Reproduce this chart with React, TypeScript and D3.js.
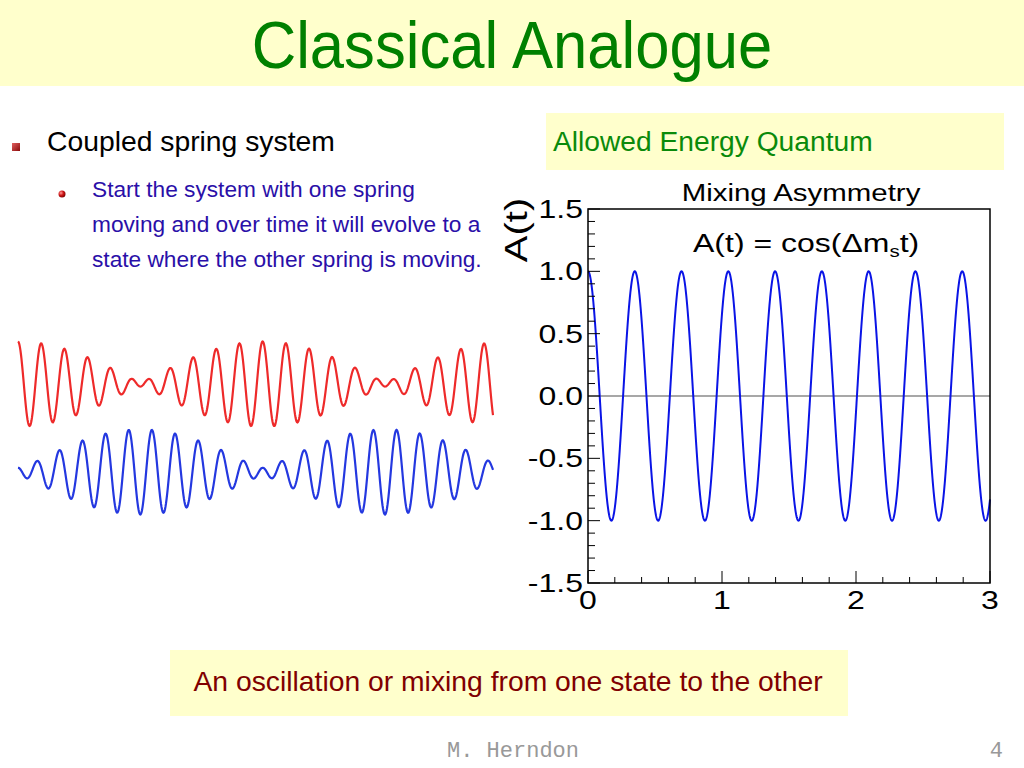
import React from "react";
import * as d3 from "d3";

// ---- slide text ----
const TITLE = "Classical Analogue";
const BULLET_1 = "Coupled spring system";
const SUB_LINES = [
  "Start the system with one spring",
  "moving and over time it will evolve to a",
  "state where the other spring is moving.",
];
const BOX_LABEL = "Allowed Energy Quantum";
const BOTTOM_NOTE = "An oscillation or mixing from one state to the other";
const FOOTER_AUTHOR = "M. Herndon";
const FOOTER_PAGE = "4";

// ---- chart data ----
const CHART_TITLE = "Mixing Asymmetry";
const Y_LABEL = "A(t)";
const X_DOMAIN = [0, 3];
const Y_DOMAIN = [-1.5, 1.5];
const X_TICKS = [0, 1, 2, 3];
const X_TICK_LABELS = ["0", "1", "2", "3"];
const Y_TICKS = [-1.5, -1.0, -0.5, 0.0, 0.5, 1.0, 1.5];
const Y_TICK_LABELS = ["-1.5", "-1.0", "-0.5", "0.0", "0.5", "1.0", "1.5"];
const DELTA_MS = 18.0; // oscillation frequency read from peak spacing
const T_STEP = 0.002;

// ---- coupled spring illustration (beat parameters) ----
const CARRIER_PERIOD_PX = 23.3;
const BEAT_HALF_PERIOD_PX = 245;
const SPRING_X0 = 18;
const SPRING_X1 = 493;
const RED_CENTER = 384;
const BLUE_CENTER = 472;
const SPRING_AMP = 42.5;
const RED_RESIDUAL = 0.06;
const BLUE_RESIDUAL = 0.1;

const FONT = "'Liberation Sans', Arial, Helvetica, sans-serif";

function StretchText(props: {
  x: number;
  y: number;
  sx?: number;
  size: number;
  anchor?: string;
  fill?: string;
  children: React.ReactNode;
}) {
  const { x, y, sx = 1.28, size, anchor = "start", fill = "#000", children } = props;
  return (
    <text
      transform={`translate(${x},${y}) scale(${sx},1)`}
      fontSize={size}
      fontFamily={FONT}
      textAnchor={anchor}
      fill={fill}
    >
      {children}
    </text>
  );
}

export default function App() {
  const W = 1024;
  const H = 768;

  // chart scales
  const x = d3.scaleLinear().domain(X_DOMAIN).range([588, 990]);
  const y = d3.scaleLinear().domain(Y_DOMAIN).range([583, 209]);

  const ts = d3.range(X_DOMAIN[0], X_DOMAIN[1] + T_STEP / 2, T_STEP);
  const curve = d3
    .line<number>()
    .x((t) => x(t))
    .y((t) => y(Math.cos(DELTA_MS * t)))(ts);

  const xMinor = d3.range(0, 3.0001, 0.2);
  const yMinor = d3.range(-1.5, 1.5001, 0.1);

  // spring illustration
  const w = (2 * Math.PI) / CARRIER_PERIOD_PX;
  const dlt = Math.PI / BEAT_HALF_PERIOD_PX;
  const px = d3.range(SPRING_X0, SPRING_X1 + 0.25, 0.5);
  const sx = d3.scaleLinear().domain([SPRING_X0, SPRING_X1]).range([SPRING_X0, SPRING_X1]);
  const redY = d3.scaleLinear().domain([-1, 1]).range([RED_CENTER + SPRING_AMP, RED_CENTER - SPRING_AMP]);
  const blueY = d3.scaleLinear().domain([-1, 1]).range([BLUE_CENTER + SPRING_AMP, BLUE_CENTER - SPRING_AMP]);
  const redLine = d3
    .line<number>()
    .x((p) => sx(p))
    .y((p) => {
      const u = p - SPRING_X0;
      return redY(Math.cos(dlt * u) * Math.cos(w * u) - RED_RESIDUAL * Math.sin(dlt * u) * Math.sin(w * u));
    })(px);
  const blueLine = d3
    .line<number>()
    .x((p) => sx(p))
    .y((p) => {
      const u = p - SPRING_X0;
      return blueY(-Math.sin(dlt * u) * Math.sin(w * u) + BLUE_RESIDUAL * Math.cos(dlt * u) * Math.cos(w * u));
    })(px);

  return (
    <svg
      width={W}
      height={H}
      viewBox={`0 0 ${W} ${H}`}
      style={{ position: "absolute", left: 0, top: 0, background: "#fff" }}
    >
      <defs>
        <linearGradient id="sq" x1="0" y1="0" x2="1" y2="1">
          <stop offset="0" stopColor="#e06060" />
          <stop offset="1" stopColor="#8a0a0a" />
        </linearGradient>
        <radialGradient id="ball" cx="0.35" cy="0.35" r="0.7">
          <stop offset="0" stopColor="#ff9a9a" />
          <stop offset="0.5" stopColor="#d01818" />
          <stop offset="1" stopColor="#7a0000" />
        </radialGradient>
      </defs>
      <rect x={0} y={0} width={W} height={H} fill="#fff" />

      {/* title band */}
      <rect x={0} y={0} width={W} height={86} fill="#ffffcc" />
      <text
        transform="translate(512,68) scale(0.92,1)"
        fontSize={67}
        fontFamily={FONT}
        fill="#008000"
        textAnchor="middle"
      >
        {TITLE}
      </text>

      {/* left bullets */}
      <rect x={12} y={143} width={8} height={8} fill="url(#sq)" />
      <text x={47} y={151} fontSize={28.3} fontFamily={FONT} fill="#000">
        {BULLET_1}
      </text>
      <circle cx={62} cy={194} r={3.5} fill="url(#ball)" />
      {SUB_LINES.map((s, i) => (
        <text key={i} x={92} y={197 + i * 35} fontSize={22.7} fontFamily={FONT} fill="#2a0fa8">
          {s}
        </text>
      ))}

      {/* spring waves */}
      <path d={redLine || ""} fill="none" stroke="#ee2a2a" strokeWidth={2.2} />
      <path d={blueLine || ""} fill="none" stroke="#2438e0" strokeWidth={2.2} />

      {/* Allowed energy box */}
      <rect x={546} y={113} width={458} height={57} fill="#ffffcc" />
      <text x={553} y={151} fontSize={28.2} fontFamily={FONT} fill="#0a8a0a">
        {BOX_LABEL}
      </text>

      {/* chart */}
      <StretchText x={801} y={201} size={23} anchor="middle">
        {CHART_TITLE}
      </StretchText>
      <text
        transform={`translate(527,230) rotate(-90) scale(1.25,1)`}
        fontSize={32}
        fontFamily={FONT}
        textAnchor="middle"
      >
        {Y_LABEL}
      </text>
      <rect x={588} y={209} width={402} height={374} fill="#fff" />
      <line x1={x(0)} x2={x(3)} y1={y(0)} y2={y(0)} stroke="#8a8a8a" strokeWidth={1.5} />
      <path d={curve || ""} fill="none" stroke="#0a14e6" strokeWidth={2} />
      {yMinor.map((v, i) => {
        const major = Math.abs(Math.round(v * 2) - v * 2) < 1e-6;
        return (
          <line
            key={"ym" + i}
            x1={588}
            x2={588 + (major ? 12 : 7)}
            y1={y(v)}
            y2={y(v)}
            stroke="#000"
            strokeWidth={1}
          />
        );
      })}
      {xMinor.map((v, i) => {
        const major = Math.abs(Math.round(v) - v) < 1e-6;
        return (
          <line
            key={"xm" + i}
            x1={x(v)}
            x2={x(v)}
            y1={583}
            y2={583 - (major ? 12 : 6)}
            stroke="#000"
            strokeWidth={1}
          />
        );
      })}
      <rect x={588} y={209} width={402} height={374} fill="none" stroke="#000" strokeWidth={1.5} />
      {Y_TICKS.map((v, i) => (
        <StretchText key={"yl" + i} x={583} y={y(v) + 9} size={25} anchor="end">
          {Y_TICK_LABELS[i]}
        </StretchText>
      ))}
      {X_TICKS.map((v, i) => (
        <StretchText key={"xl" + i} x={x(v)} y={609} size={25} anchor="middle">
          {X_TICK_LABELS[i]}
        </StretchText>
      ))}
      <StretchText x={693} y={252} size={25} anchor="start">
        {"A(t) = cos(\u0394m"}
        <tspan fontSize={16} dy={5}>s</tspan>
        <tspan dy={-5}>t)</tspan>
      </StretchText>

      {/* bottom note */}
      <rect x={170} y={650} width={678} height={66} fill="#ffffcc" />
      <text x={508} y={691} fontSize={28.3} fontFamily={FONT} fill="#800000" textAnchor="middle">
        {BOTTOM_NOTE}
      </text>

      {/* footer */}
      <text x={447} y={757} fontSize={22} fontFamily="'Courier New', 'Liberation Mono', monospace" fill="#999">
        {FOOTER_AUTHOR}
      </text>
      <text x={1003} y={757} fontSize={22} fontFamily="'Courier New', 'Liberation Mono', monospace" fill="#999" textAnchor="end">
        {FOOTER_PAGE}
      </text>
    </svg>
  );
}
